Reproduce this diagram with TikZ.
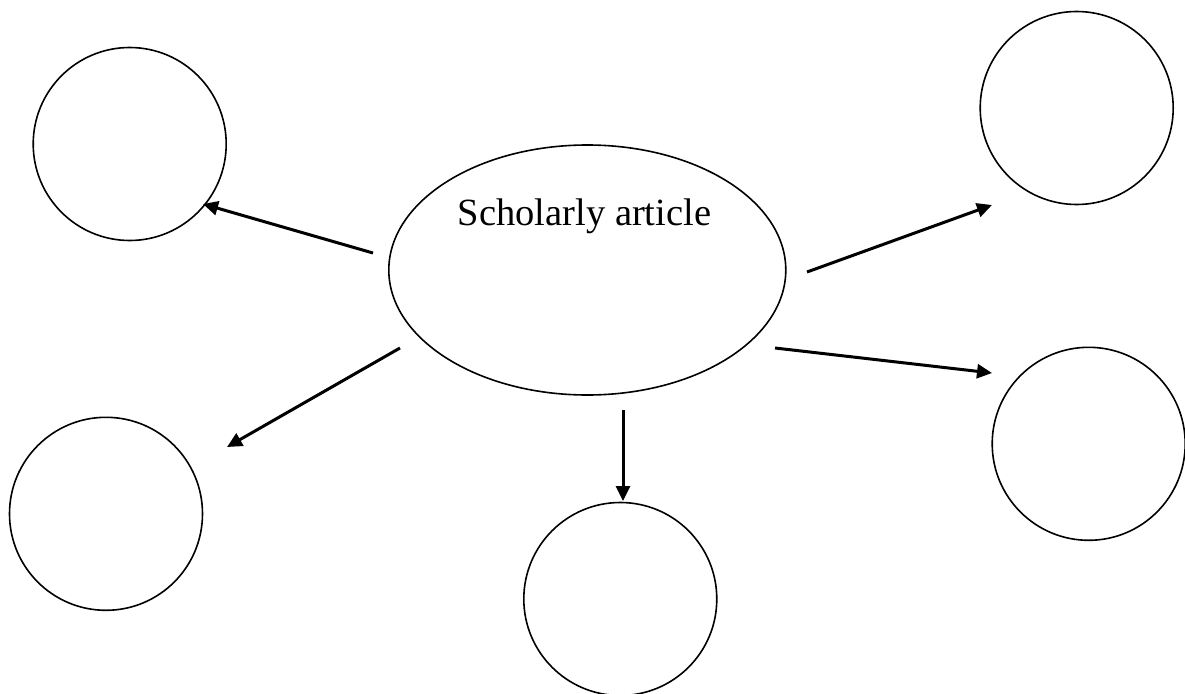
\documentclass[tikz,border=0pt]{standalone}
\usepackage{fontspec}
\setmainfont{Liberation Serif}
\usetikzlibrary{arrows.meta,shapes.geometric}
\begin{document}
\begin{tikzpicture}[x=1pt,y=-1pt,
  topic/.style={draw=black,line width=1.6pt,circle,minimum size=193pt,inner sep=0pt},
  hub/.style={draw=black,line width=1.6pt,ellipse,minimum width=397pt,minimum height=250pt,inner sep=0pt},
  link/.style={line width=3pt,-{Triangle[length=15pt,width=14pt]}}]
\useasboundingbox (0,0) rectangle (1185,693);
% central ellipse and its title
\node[hub] (ell) at (587.3,270) {};
\node[anchor=base,inner sep=0pt,font=\fontsize{38.5}{46}\selectfont] (title) at (584.5,225) {Scholarly article};
% surrounding topic circles
\node[topic] (c1) at (129.7,144) {};
\node[topic] (c2) at (1076.7,108) {};
\node[topic] (c3) at (106,513.8) {};
\node[topic] (c4) at (620.3,599) {};
\node[topic] (c5) at (1088.7,443.8) {};
% arrow end points
\coordinate (s1) at (373,253);  \coordinate (e1) at (203,204);
\coordinate (s2) at (807,272);  \coordinate (e2) at (992,205);
\coordinate (s3) at (400,348);  \coordinate (e3) at (227,447);
\coordinate (s4) at (623,410);  \coordinate (e4) at (623,501);
\coordinate (s5) at (775,348);  \coordinate (e5) at (992,373);
% arrows from the article outward
\draw[link] (s1) -- (e1);
\draw[link] (s2) -- (e2);
\draw[link] (s3) -- (e3);
\draw[link] (s4) -- (e4);
\draw[link] (s5) -- (e5);
\end{tikzpicture}
\end{document}
